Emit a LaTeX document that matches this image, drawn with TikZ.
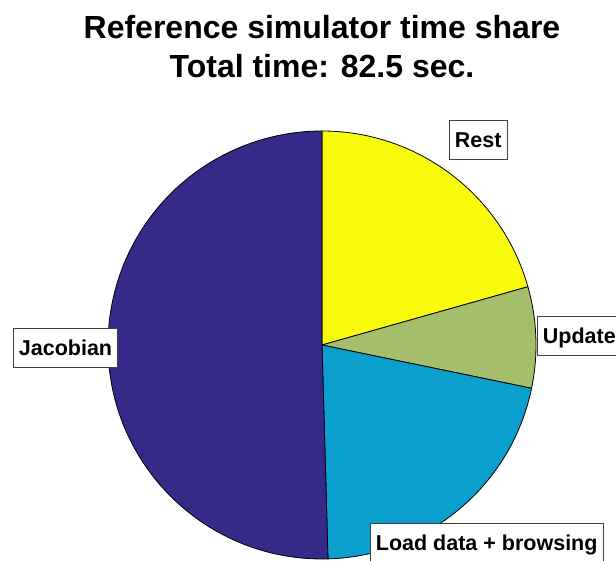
\documentclass[tikz,border=0pt]{standalone}
\usepackage{fontspec}
\setmainfont{Liberation Sans}
\definecolor{cJac}{RGB}{53,42,135}
\definecolor{cLoad}{RGB}{10,159,205}
\definecolor{cUpd}{RGB}{165,190,107}
\definecolor{cRest}{RGB}{249,251,14}
\begin{document}
\begin{tikzpicture}[x=1pt,y=1pt,
  slice/.style={draw=black, line width=0.8pt, line join=round},
  lbl/.style={draw=black!75, line width=0.8pt, fill=white,
    font=\fontsize{21.5}{24}\selectfont\bfseries, inner xsep=5.5pt, inner ysep=0pt,
    text height=15.4pt, text depth=0pt, minimum height=39pt, anchor=west},
  ttl/.style={font=\fontsize{32}{36}\selectfont\bfseries, anchor=base, inner sep=0pt}]
\useasboundingbox (0,0) rectangle (616,560);
\coordinate (c) at (322,215);
\filldraw[slice, fill=cRest] (c) -- +(90:214) arc[start angle=90, end angle=15.8, radius=214] -- cycle;
\filldraw[slice, fill=cUpd] (c) -- +(15.8:214) arc[start angle=15.8, end angle=-11.67, radius=214] -- cycle;
\filldraw[slice, fill=cLoad] (c) -- +(-11.67:214) arc[start angle=-11.67, end angle=-88.4, radius=214] -- cycle;
\filldraw[slice, fill=cJac] (c) -- +(-88.4:214) arc[start angle=-88.4, end angle=-270, radius=214] -- cycle;
\node[ttl] (t1) at (322,521.5) {Reference simulator time share};
\node[ttl] (t2) at (322,482.5) {Total time: 82.5 sec.};
\node[lbl] (rest) at (449,420.5) {Rest};
\node[lbl] (upd) at (537,224) {Update};
\node[lbl] (load) at (370,17.5) {Load data + browsing};
\node[lbl] (jac) at (13,212.5) {Jacobian};
\end{tikzpicture}
\end{document}
